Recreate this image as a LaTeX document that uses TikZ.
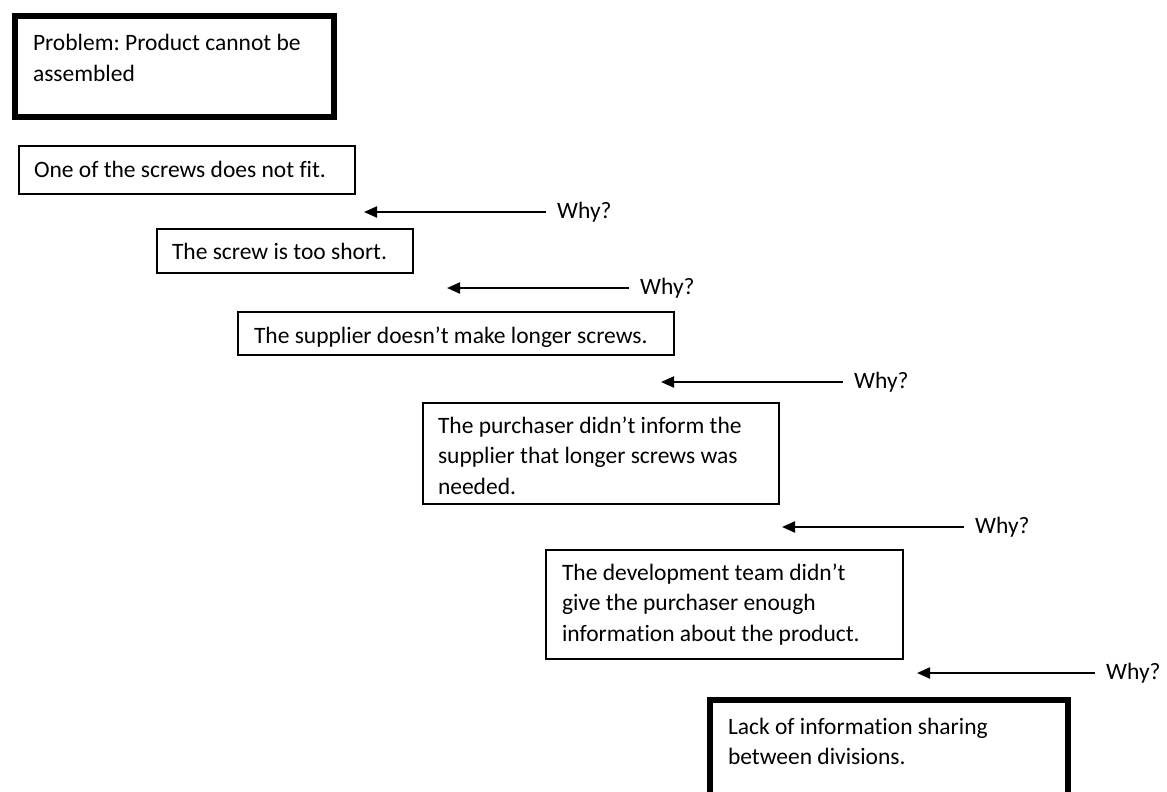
\documentclass[tikz,border=0pt]{standalone}
\usepackage{fontspec}
\setmainfont{Carlito}[Ligatures=NoCommon]
\usetikzlibrary{arrows.meta}
\frenchspacing
% box body: width, height, first baseline from top, text
\newcommand\cellbody[4]{\parbox[c][#2][t]{#1}{\raggedright\rule{0pt}{#3}#4}}
\begin{document}
\begin{tikzpicture}[x=1pt,y=-1pt,
  font=\fontsize{23.5}{30.5}\selectfont,
  causebox/.style={draw, line width=2pt, anchor=north west, inner ysep=0pt, inner xsep=15pt},
  rootbox/.style={causebox, line width=6pt, inner xsep=18pt},
  whylabel/.style={anchor=west, inner xsep=11pt, inner ysep=0pt},
  whyarrow/.style={line width=2pt, -{Triangle[length=13pt,width=11pt]}}]
\clip (0,0) rectangle (1167,792);

% problem and causes
\node[rootbox] (problem) at (12,13)
  {\cellbody{283pt}{101pt}{35pt}{Problem: Product cannot be\\assembled}};
\node[causebox] (c1) at (18,145)
  {\cellbody{306pt}{48pt}{31pt}{One of the screws does not fit.}};
\node[causebox] (c2) at (156,228)
  {\cellbody{226pt}{44pt}{30pt}{The screw is too short.}};
\node[causebox, inner xsep=16pt] (c3) at (237,311)
  {\cellbody{404pt}{43pt}{31pt}{The supplier doesn’t make longer screws.}};
\node[causebox] (c4) at (422,402)
  {\cellbody{326pt}{101pt}{30pt}{The purchaser didn’t inform the\\supplier that longer screws was\\needed.}};
\node[causebox, inner xsep=16pt] (c5) at (545,549)
  {\cellbody{325pt}{109pt}{30pt}{The development team didn’t\\give the purchaser enough\\information about the product.}};
\node[rootbox] (root) at (707,697)
  {\cellbody{322pt}{160pt}{34pt}{Lack of information sharing\\between divisions.}};

% "Why?" arrows
\node[whylabel] (w1) at (546,212) {Why?};
\coordinate (t1) at (364,212);
\draw[whyarrow] (w1.west) -- (t1);

\node[whylabel] (w2) at (629,288) {Why?};
\coordinate (t2) at (447,288);
\draw[whyarrow] (w2.west) -- (t2);

\node[whylabel] (w3) at (843,382) {Why?};
\coordinate (t3) at (661,382);
\draw[whyarrow] (w3.west) -- (t3);

\node[whylabel] (w4) at (964,527) {Why?};
\coordinate (t4) at (782,527);
\draw[whyarrow] (w4.west) -- (t4);

\node[whylabel] (w5) at (1095,673) {Why?};
\coordinate (t5) at (917,673);
\draw[whyarrow] (w5.west) -- (t5);
\end{tikzpicture}
\end{document}
